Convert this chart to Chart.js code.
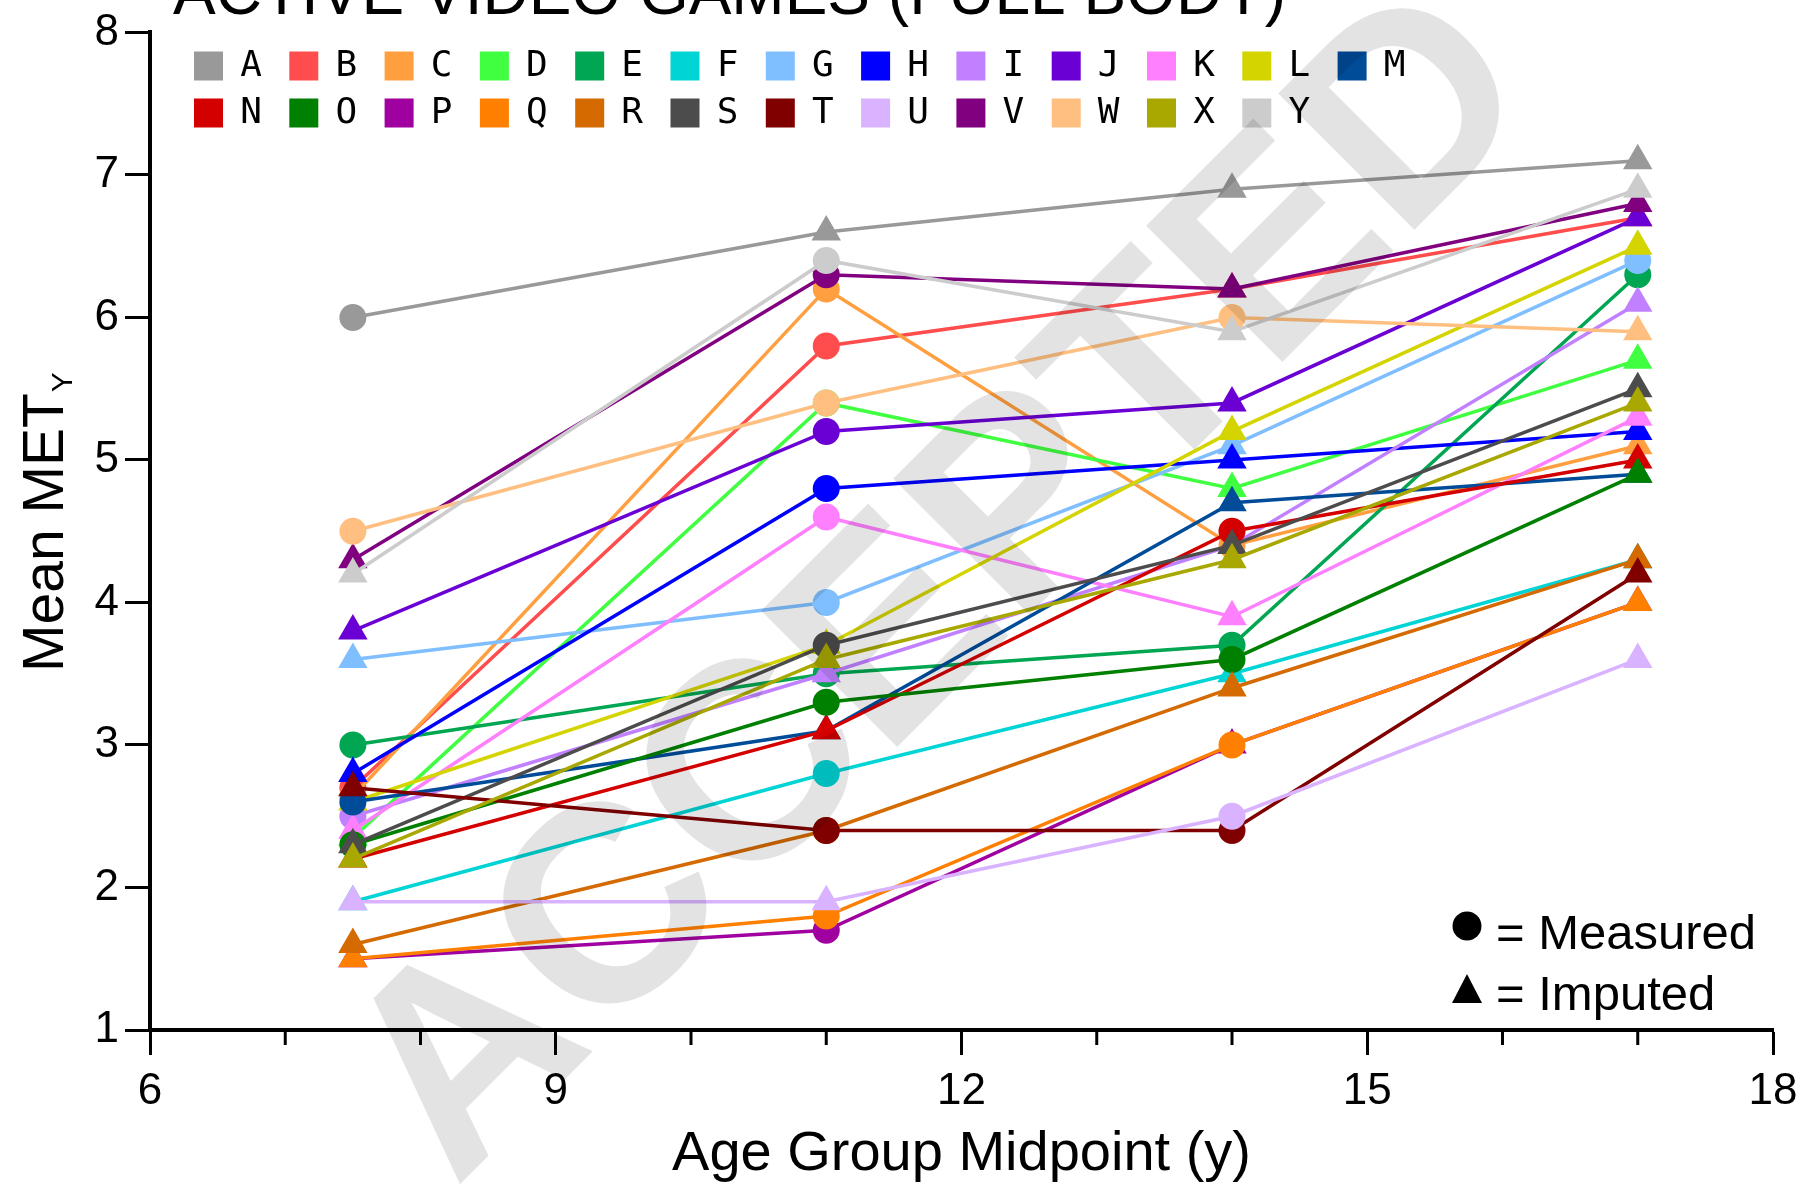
<!DOCTYPE html>
<html>
<head>
<meta charset="utf-8">
<style>
  html, body { margin: 0; padding: 0; background: #fff; }
  #wrap { width: 1808px; height: 1185px; }
</style>
<script src="https://cdn.jsdelivr.net/npm/chart.js@4.4.1/dist/chart.umd.min.js"></script>
</head>
<body>
<div id="wrap"><canvas id="chart" width="1808" height="1185"></canvas></div>
<script>
// age group midpoints (x) and series
const ageMid = [7.5, 11, 14, 17];
const seriesNames = ['A','B','C','D','E','F','G','H','I','J','K','L','M',
                     'N','O','P','Q','R','S','T','U','V','W','X','Y'];

// mean MET values per series, one per age group
const metA = [6.0, 6.6, 6.9, 7.1];
const metB = [2.7, 5.8, 6.2, 6.7];
const metC = [2.64, 6.2, 4.4, 5.1];
const metD = [2.35, 5.4, 4.8, 5.7];
const metE = [3.0, 3.5, 3.7, 6.3];
const metF = [1.9, 2.8, 3.5, 4.3];
const metG = [3.6, 4.0, 5.1, 6.4];
const metH = [2.8, 4.8, 5.0, 5.2];
const metI = [2.5, 3.5, 4.4, 6.1];
const metJ = [3.8, 5.2, 5.4, 6.7];
const metK = [2.4, 4.6, 3.9, 5.3];
const metL = [2.6, 3.7, 5.2, 6.5];
const metM = [2.6, 3.1, 4.7, 4.9];
const metN = [2.2, 3.1, 4.5, 5.0];
const metO = [2.3, 3.3, 3.6, 4.9];
const metP = [1.5, 1.7, 3.0, 4.0];
const metQ = [1.5, 1.8, 3.0, 4.0];
const metR = [1.6, 2.4, 3.4, 4.3];
const metS = [2.3, 3.7, 4.4, 5.5];
const metT = [2.7, 2.4, 2.4, 4.2];
const metU = [1.9, 1.9, 2.5, 3.6];
const metV = [4.3, 6.3, 6.2, 6.8];
const metW = [4.5, 5.4, 6.0, 5.9];
const metX = [2.2, 3.6, 4.3, 5.4];
const metY = [4.2, 6.4, 5.9, 6.9];
const metValues = [metA, metB, metC, metD, metE, metF, metG, metH, metI, metJ, metK, metL, metM,
                   metN, metO, metP, metQ, metR, metS, metT, metU, metV, metW, metX, metY];

// M = measured (circle), I = imputed (triangle), per age group
const pointKinds = ['MIII','MMII','MMMI','IMII','MMMM','IMII','IMIM','IMII','MIII','IMII','IMII','IIII','MIII',
                    'IIMI','MMMI','IMII','IMMI','IMII','IMII','IMMI','IIMI','IMII','MMMI','IIII','IMII'];

const xTicks = [6, 9, 12, 15, 18];
const xMinorTicks = [7, 8, 10, 11, 13, 14, 16, 17];

const palette = ['#999999','#FF4C4C','#FF9F40','#40FF40','#00A651','#00D4D4','#80BFFF','#0000FF',
                 '#C080FF','#6A00D4','#FF80FF','#D4D400','#004C99','#D40000','#008000','#A000A0',
                 '#FF8000','#D46A00','#4C4C4C','#800000','#D9B3FF','#800080','#FFBF80','#A8A800','#CCCCCC'];

const FONT = "'Liberation Sans', Arial, sans-serif";

const datasets = seriesNames.map((name, i) => {
  const kinds = pointKinds[i].split('');
  return {
    label: name,
    data: ageMid.map((x, j) => ({ x: x, y: metValues[i][j] })),
    borderColor: palette[i],
    backgroundColor: palette[i],
    borderWidth: 3.5,
    pointStyle: kinds.map(k => k === 'M' ? 'circle' : 'triangle'),
    pointRadius: kinds.map(k => k === 'M' ? 13.5 : 17),
    pointBorderWidth: 0,
    tension: 0,
    order: seriesNames.length - i  // later series drawn on top
  };
});

// extra drawing: minor ticks, titles, legend, marker key, watermark
const decorations = {
  id: 'decorations',
  afterDraw(chart) {
    const ctx = chart.ctx;
    const xs = chart.scales.x;
    const area = chart.chartArea;
    ctx.save();

    // minor x ticks
    ctx.strokeStyle = '#000';
    ctx.lineWidth = 3;
    xMinorTicks.forEach(v => {
      const px = xs.getPixelForValue(v);
      ctx.beginPath();
      ctx.moveTo(px, area.bottom);
      ctx.lineTo(px, area.bottom + 15);
      ctx.stroke();
    });

    // chart title (cut off at the top)
    ctx.fillStyle = '#000';
    ctx.font = '64px ' + FONT;
    ctx.textAlign = 'left';
    ctx.textBaseline = 'alphabetic';
    ctx.fillText('ACTIVE VIDEO GAMES (FULL BODY)', 173, 14);

    // y axis title with subscript
    ctx.save();
    ctx.translate(63, 672);
    ctx.rotate(-Math.PI / 2);
    ctx.font = '57px ' + FONT;
    ctx.fillText('Mean MET', 0, 0);
    const w = ctx.measureText('Mean MET').width;
    ctx.font = '30px ' + FONT;
    ctx.fillText('Y', w + 1, 9);
    ctx.restore();

    // series legend
    ctx.font = '36px "DejaVu Sans Mono", monospace';
    ctx.textAlign = 'center';
    ctx.textBaseline = 'middle';
    const rowY = [66, 113];
    seriesNames.forEach((name, i) => {
      const r = Math.floor(i / 13), c = i % 13;
      const x = 194 + c * 95.3;
      ctx.fillStyle = palette[i];
      ctx.fillRect(x, rowY[r] - 14.5, 29, 29);
      ctx.fillStyle = '#000';
      ctx.fillText(name, x + 57, rowY[r] + 1);
    });

    // measured / imputed key
    ctx.fillStyle = '#000';
    ctx.beginPath();
    ctx.arc(1467, 926, 14.5, 0, Math.PI * 2);
    ctx.fill();
    ctx.beginPath();
    ctx.moveTo(1467, 974);
    ctx.lineTo(1482, 1003);
    ctx.lineTo(1452, 1003);
    ctx.closePath();
    ctx.fill();
    ctx.font = '49px ' + FONT;
    ctx.textAlign = 'left';
    ctx.textBaseline = 'alphabetic';
    ctx.fillText('= Measured', 1496, 949);
    ctx.fillText('= Imputed', 1496, 1010);

    // watermark
    ctx.save();
    ctx.translate(945, 590);
    ctx.rotate(-Math.PI / 4);
    ctx.font = 'bold 280px ' + FONT;
    ctx.textAlign = 'center';
    ctx.textBaseline = 'middle';
    ctx.fillStyle = 'rgba(0,0,0,0.11)';
    ctx.fillText('ACCEPTED', 0, 0);
    ctx.restore();

    ctx.restore();
  }
};

new Chart(document.getElementById('chart'), {
  type: 'line',
  data: { datasets: datasets },
  options: {
    responsive: false,
    animation: false,
    layout: { padding: { left: 0, right: 35, top: 29, bottom: 0 } },
    plugins: {
      legend: { display: false },
      tooltip: { enabled: false },
      title: { display: false }
    },
    scales: {
      x: {
        type: 'linear',
        min: 6,
        max: 18,
        afterBuildTicks: s => { s.ticks = xTicks.map(v => ({ value: v })); },
        afterFit: s => { s.height = 155; },
        grid: { drawOnChartArea: false, tickLength: 25, tickWidth: 3, tickColor: '#000' },
        border: { color: '#000', width: 4 },
        ticks: { color: '#000', font: { family: FONT, size: 44 }, padding: 10, maxRotation: 0 },
        title: { display: true, text: 'Age Group Midpoint (y)', color: '#000',
                 font: { family: FONT, size: 56, lineHeight: 1 }, padding: { top: 0, bottom: 2 } }
      },
      y: {
        min: 1,
        max: 8,
        afterFit: s => { s.width = 150; },
        grid: { drawOnChartArea: false, tickLength: 25, tickWidth: 3, tickColor: '#000' },
        border: { color: '#000', width: 4 },
        ticks: { stepSize: 1, color: '#000', font: { family: FONT, size: 44 }, padding: 6 }
      }
    }
  },
  plugins: [decorations]
});
</script>
</body>
</html>
